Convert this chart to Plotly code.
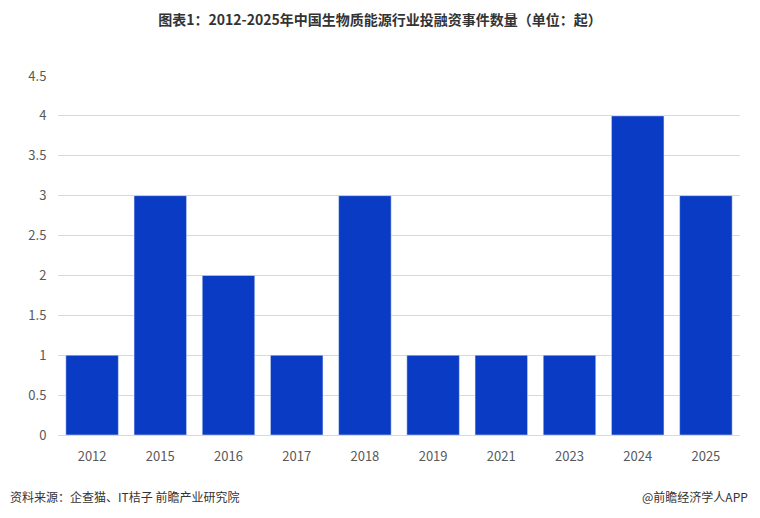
import plotly.graph_objects as go

years = ["2012", "2015", "2016", "2017", "2018", "2019", "2021", "2023", "2024", "2025"]
counts = [1, 3, 2, 1, 3, 1, 1, 1, 4, 3]
y_ticks = [0, 0.5, 1, 1.5, 2, 2.5, 3, 3.5, 4, 4.5]

font = "Noto Sans CJK SC"

fig = go.Figure(go.Bar(x=years, y=counts, marker_color="#0a3bc4"))

# the page has an 8px body margin, so the figure is sized to fit inside it
fig.update_layout(
    width=744, height=502,
    margin=dict(l=50, r=12, t=68, b=75),
    plot_bgcolor="white", paper_bgcolor="white",
    bargap=0.23,
    showlegend=False,
    font=dict(family=font, size=13, color="#595959"),
    title=dict(text="<b>图表1：2012-2025年中国生物质能源行业投融资事件数量（单位：起）</b>",
               x=0.5, xanchor="center", y=0.975, yanchor="middle",
               font=dict(size=14, color="#333333")),
)
fig.update_yaxes(range=[0, 4.5], tickvals=y_ticks, ticktext=[f"{v:g}" for v in y_ticks],
                 showgrid=True, gridcolor="#d9d9d9", zeroline=False, ticks="outside", ticklen=8,
                 tickcolor="white")
fig.update_xaxes(showline=True, linecolor="#d9d9d9", ticks="outside", ticklen=9,
                 tickcolor="white")

fig.add_annotation(text="资料来源：企查猫、IT桔子 前瞻产业研究院", xref="paper", yref="paper",
                   x=-50/682, y=-61/359, xanchor="left", yanchor="middle", showarrow=False,
                   font=dict(size=12, color="#333333"))
fig.add_annotation(text="@前瞻经济学人APP", xref="paper", yref="paper",
                   x=1 + 10/682, y=-61/359, xanchor="right", yanchor="middle", showarrow=False,
                   font=dict(size=12, color="#333333"))

fig.write_html("out.html")
